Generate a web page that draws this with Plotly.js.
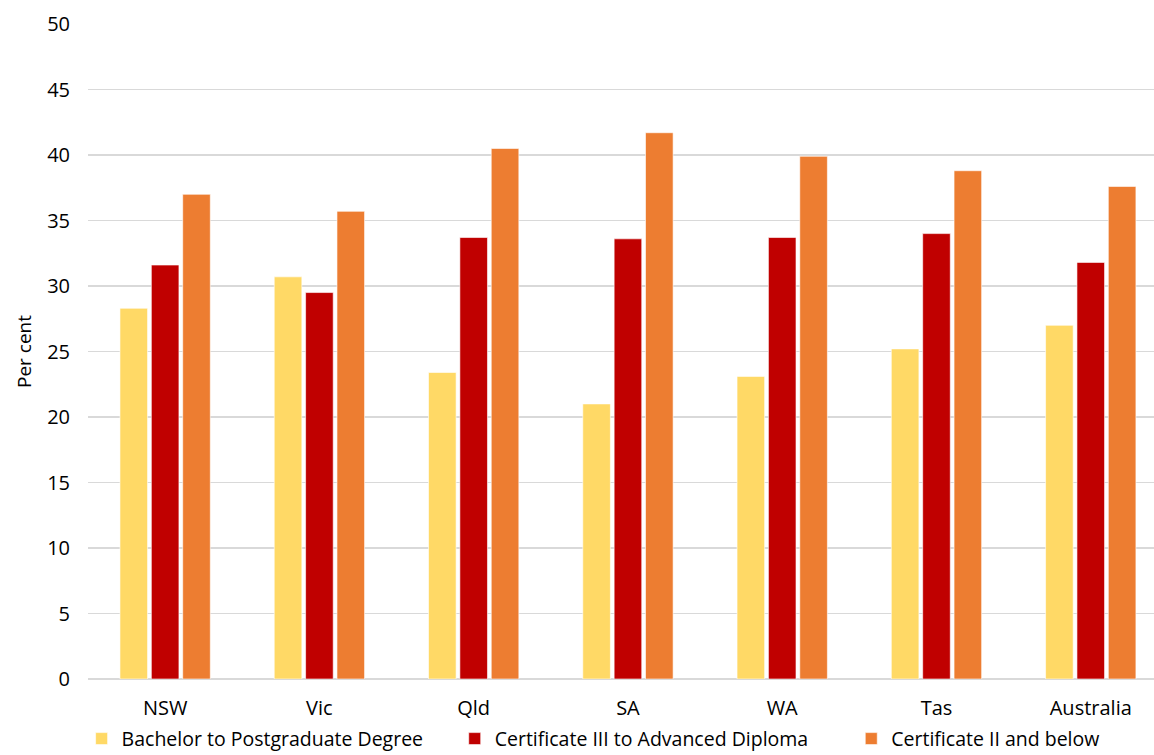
<!DOCTYPE html>
<html><head><meta charset="utf-8">
<script src="https://cdn.plot.ly/plotly-3.0.1.min.js"></script>
<style>html,body{margin:0;padding:0;background:#fff}#chart{width:1154px;height:755px}</style>
</head><body><div id="chart"></div>
<script>
const categories = ["NSW","Vic","Qld","SA","WA","Tas","Australia"];
const bachelor = [28.3, 30.7, 23.4, 21.0, 23.1, 25.2, 27.0];
const certIII = [31.6, 29.5, 33.7, 33.6, 33.7, 34.0, 31.8];
const certII = [37.0, 35.7, 40.5, 41.7, 39.9, 38.8, 37.6];
const seriesNames = ["Bachelor to Postgraduate Degree","Certificate III to Advanced Diploma","Certificate II and below"];
const colors = ["#FFD966","#C00000","#ED7D31"];
const legendIds = ["legend","legend2","legend3"];
const legendX = [-0.006, 0.344, 0.716];
const font = "'Open Sans', Lato, sans-serif";
const data = [bachelor, certIII, certII].map((v,i)=>({
  type:"bar", x:categories, y:v, name:seriesNames[i], legend:legendIds[i],
  marker:{color:colors[i], line:{color:"rgba(255,255,255,0.6)", width:1}},
  hoverinfo:"y"
}));
const layout = {
  width:1154, height:755,
  margin:{l:88, r:0, t:24, b:76, autoexpand:false},
  paper_bgcolor:"#fff", plot_bgcolor:"#fff",
  font:{family:font, size:20, color:"#000"},
  barmode:"group", bargap:0.39, bargroupgap:0.12,
  xaxis:{type:"category", range:[-0.5, 6.41], showgrid:false, showline:false, ticks:"", ticklabelstandoff:15, tickfont:{size:20}, automargin:false},
  yaxis:{range:[0,50], dtick:5, showgrid:true, gridcolor:"#d9d9d9", gridwidth:1.5, zeroline:true, zerolinecolor:"#d9d9d9", zerolinewidth:1.5, ticks:"", ticklabelstandoff:17, tickfont:{size:20}, automargin:false,
    title:{text:"Per cent", font:{size:19}, standoff:10}},
  showlegend:true
};
legendIds.forEach((id,i)=>{
  layout[id] = {orientation:"h", x:legendX[i], xanchor:"left", y:-0.0915, yanchor:"middle", font:{size:19.5}, itemwidth:30, bgcolor:"rgba(0,0,0,0)"};
});
Plotly.newPlot("chart", data, layout, {displayModeBar:false, staticPlot:true});
</script></body></html>
